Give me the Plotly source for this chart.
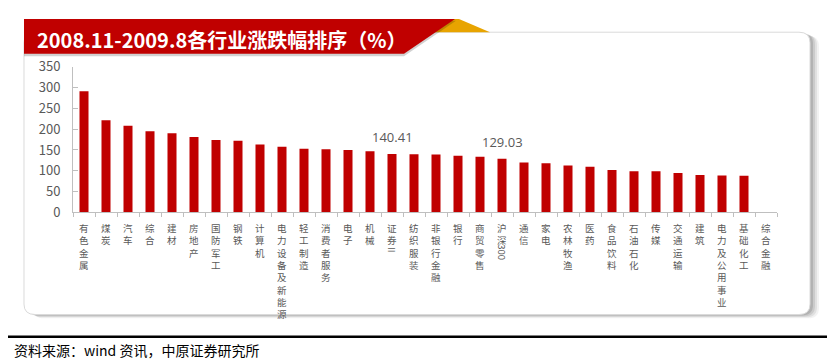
import plotly.graph_objects as go

# ---------------- data ----------------
categories = ['有色金属', '煤炭', '汽车', '综合', '建材', '房地产', '国防军工', '钢铁', '计算机',
              '电力设备及新能源', '轻工制造', '消费者服务', '电子', '机械', '证券Ⅱ', '纺织服装',
              '非银行金融', '银行', '商贸零售', '沪深300', '通信', '家电', '农林牧渔', '医药',
              '食品饮料', '石油石化', '传媒', '交通运输', '建筑', '电力及公用事业', '基础化工', '综合金融']
values = [291, 221, 208, 195, 190, 181, 174, 172, 163, 158, 153, 152, 150, 147, 140.41, 140,
          139, 136, 134, 129.03, 120, 118, 113, 110, 102, 99, 99, 95, 90, 89, 88, None]
value_labels = {'证券Ⅱ': '140.41', '沪深300': '129.03'}
y_ticks = [0, 50, 100, 150, 200, 250, 300, 350]
title_text = '2008.11-2009.8各行业涨跌幅排序（%）'
source_text = '资料来源：wind 资讯，中原证券研究所'

# ---------------- layout helpers ----------------
W, H = 835, 361
OFF = 8  # page body margin offsets the figure by 8px in the viewport

def px(x):
    return (x - OFF) / W
def py(y):
    return 1 - (y - OFF) / H

AX_L, AX_R, AX_T, AX_B = 73, 777, 59.3, 213.3
RED = '#C00000'
GOLD = '#E8A400'
GRAY_AX = '#BFBFBF'
TXT = '#595959'

def rrect_path(x0, y0, x1, y1, r):
    pts = [
        ('M', [(x0 + r, y0)]), ('L', [(x1 - r, y0)]), ('Q', [(x1, y0), (x1, y0 + r)]),
        ('L', [(x1, y1 - r)]), ('Q', [(x1, y1), (x1 - r, y1)]), ('L', [(x0 + r, y1)]),
        ('Q', [(x0, y1), (x0, y1 - r)]), ('L', [(x0, y0 + r)]), ('Q', [(x0, y0), (x0 + r, y0)]),
    ]
    s = ''
    for cmd, ps in pts:
        s += cmd + ' ' + ' '.join(f'{px(a):.5f},{py(b):.5f}' for a, b in ps) + ' '
    return s + 'Z'

def poly_path(points):
    s = 'M ' + ' L '.join(f'{px(a):.5f},{py(b):.5f}' for a, b in points)
    return s + ' Z'

shapes = []
# card shadow layers
for dx, dy, a in [(9, 4, 0.05), (7, 3, 0.07), (5, 2, 0.09), (3, 1, 0.12)]:
    shapes.append(dict(type='path', xref='paper', yref='paper', layer='below',
                       path=rrect_path(24 + dx, 23 + dy, 810 + dx, 321 + dy, 11),
                       fillcolor=f'rgba(0,0,0,{a})', line=dict(width=0)))
# card
shapes.append(dict(type='path', xref='paper', yref='paper', layer='below',
                   path=rrect_path(24, 23, 810, 321, 11),
                   fillcolor='white', line=dict(color='#DADADA', width=1)))
# banner gold fold
shapes.append(dict(type='path', xref='paper', yref='paper', layer='below',
                   path=poly_path([(450, 9), (459, 9), (490, 23), (432, 23)]),
                   fillcolor=GOLD, line=dict(width=0)))
# banner shadow
shapes.append(dict(type='path', xref='paper', yref='paper', layer='below',
                   path=poly_path([(24, 11), (456, 11), (404, 48.5), (24, 48.5)]),
                   fillcolor='rgba(0,0,0,0.18)', line=dict(width=0)))
# banner red
shapes.append(dict(type='path', xref='paper', yref='paper', layer='below',
                   path=poly_path([(24, 9), (455, 9), (404, 45.7), (24, 45.7)]),
                   fillcolor=RED, line=dict(width=0)))
# bottom black rule
shapes.append(dict(type='line', xref='paper', yref='paper', layer='above',
                   x0=px(3), x1=px(850), y0=py(344.5), y1=py(344.5),
                   line=dict(color='black', width=2.5)))

annotations = []
annotations.append(dict(text=f'<b>{title_text}</b>', x=px(35), y=py(31), xref='paper', yref='paper',
                        xanchor='left', yanchor='middle', showarrow=False,
                        font=dict(family='Noto Sans CJK SC', size=20, color='white')))
annotations.append(dict(text=source_text, x=px(12), y=py(358.5), xref='paper', yref='paper',
                        xanchor='left', yanchor='middle', showarrow=False,
                        font=dict(family='Noto Sans CJK SC', size=14, color='black')))

# value labels above selected bars
for c, v in zip(categories, values):
    if c in value_labels:
        annotations.append(dict(text=value_labels[c], x=c, y=v, xref='x', yref='y',
                                xanchor='center', yanchor='bottom', yshift=6, showarrow=False,
                                font=dict(family='Open Sans', size=13, color=TXT)))

# vertical category labels: characters stacked in one text per category;
# rotated pieces ("300", "Ⅱ") are placed as their own rotated text underneath
LBL_SIZE = 9.5
LINE = LBL_SIZE * 1.3
LBL_TOP = 221
lbl_font = dict(family='Noto Sans CJK SC', size=LBL_SIZE, color=TXT)
for c in categories:
    upright, rotated = c, None
    if c.endswith('300'):
        upright, rotated = c[:-3], '300'
    elif c.endswith('Ⅱ'):
        upright, rotated = c[:-1], 'Ⅱ'
    annotations.append(dict(text='<br>'.join(upright), x=c, y=py(LBL_TOP), xref='x', yref='paper',
                            xanchor='center', yanchor='top', showarrow=False, borderpad=0,
                            font=lbl_font))
    if rotated:
        rot_len = 17 if rotated == '300' else LINE
        cy = LBL_TOP + len(upright) * LINE + 1 + rot_len / 2
        annotations.append(dict(text=rotated, x=c, y=py(cy), xref='x', yref='paper',
                                xanchor='center', yanchor='middle', showarrow=False, borderpad=0,
                                textangle=90, font=lbl_font))

fig = go.Figure()
fig.add_trace(go.Bar(x=categories, y=values, marker=dict(color=RED, line=dict(width=0)),
                     width=0.41, hoverinfo='x+y'))

fig.update_layout(
    width=W, height=H, autosize=False,
    margin=dict(l=0, r=0, t=0, b=0),
    paper_bgcolor='white', plot_bgcolor='rgba(0,0,0,0)',
    showlegend=False,
    shapes=shapes, annotations=annotations,
    xaxis=dict(domain=[px(AX_L), px(AX_R)], type='category', range=[-0.5, len(categories) - 0.5],
               showline=True, linecolor=GRAY_AX, linewidth=1,
               ticks='outside', ticklen=4, tickcolor=GRAY_AX, tickson='boundaries',
               showticklabels=False, showgrid=False, zeroline=False, fixedrange=True),
    yaxis=dict(domain=[py(AX_B), py(AX_T)], range=[0, 350], tickvals=y_ticks,
               showline=True, linecolor=GRAY_AX, linewidth=1,
               ticks='inside', ticklen=5, tickcolor=GRAY_AX,
               tickfont=dict(family='Noto Sans CJK SC', size=13, color=TXT),
               ticklabelstandoff=9,
               showgrid=False, zeroline=False, fixedrange=True),
)

fig.write_html('out.html', config={'displayModeBar': False})
